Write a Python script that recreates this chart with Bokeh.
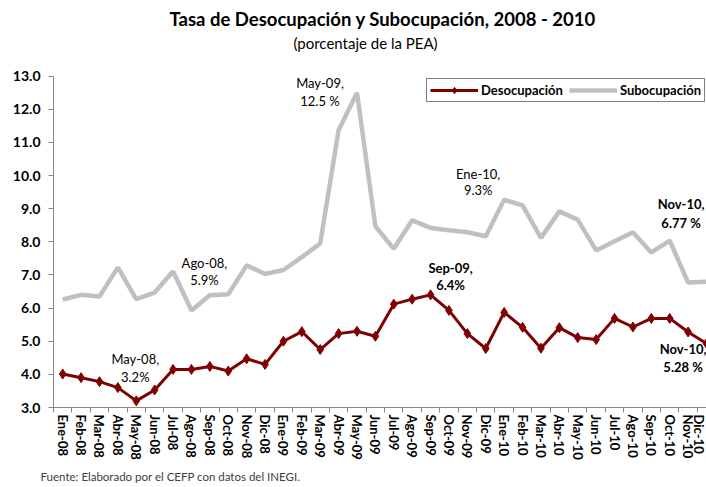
from bokeh.plotting import figure
from bokeh.models import (Range1d, FixedTicker, NumeralTickFormatter, Legend,
                          LegendItem, Label, Title)
from bokeh.embed import file_html
from bokeh.resources import INLINE

months = ["Ene-08", "Feb-08", "Mar-08", "Abr-08", "May-08", "Jun-08",
          "Jul-08", "Ago-08", "Sep-08", "Oct-08", "Nov-08", "Dic-08",
          "Ene-09", "Feb-09", "Mar-09", "Abr-09", "May-09", "Jun-09",
          "Jul-09", "Ago-09", "Sep-09", "Oct-09", "Nov-09", "Dic-09",
          "Ene-10", "Feb-10", "Mar-10", "Abr-10", "May-10", "Jun-10",
          "Jul-10", "Ago-10", "Sep-10", "Oct-10", "Nov-10", "Dic-10"]

desocupacion = [4.01, 3.90, 3.78, 3.60, 3.20, 3.53,
                4.15, 4.15, 4.24, 4.10, 4.47, 4.30,
                5.00, 5.29, 4.75, 5.23, 5.30, 5.15,
                6.12, 6.27, 6.40, 5.93, 5.23, 4.78,
                5.87, 5.42, 4.79, 5.41, 5.11, 5.05,
                5.69, 5.43, 5.69, 5.69, 5.28, 4.93]

subocupacion = [6.26, 6.40, 6.35, 7.23, 6.27, 6.47,
                7.11, 5.93, 6.39, 6.42, 7.29, 7.03,
                7.15, 7.54, 7.95, 11.37, 12.50, 8.47,
                7.79, 8.65, 8.42, 8.35, 8.29, 8.17,
                9.27, 9.10, 8.12, 8.92, 8.67, 7.74,
                8.02, 8.29, 7.68, 8.04, 6.77, 6.80]

y_ticks = [3, 4, 5, 6, 7, 8, 9, 10, 11, 12, 13]

title_text = "Tasa de Desocupación y Subocupación, 2008 - 2010"
subtitle_text = "(porcentaje de la PEA)"
footer_text = "Fuente: Elaborado por el CEFP con datos del INEGI."

# annotations: (month index, series, line 1, line 2, bold?)
ann_idx = [4, 7, 16, 24, 34, 20, 34]
ann_series = ["d", "s", "s", "s", "s", "d", "d"]
ann_line1 = ["May-08,", "Ago-08,", "May-09,", "Ene-10,", "Nov-10,", "Sep-09,", "Nov-10,"]
ann_line2 = ["3.2%", "5.9%", "12.5 %", "9.3%", "6.77 %", "6.4%", "5.28 %"]
ann_bold = [False, False, False, False, True, True, True]
# label placement (pixels, relative to the data point)
ann_dx = [-1, 13, -37, -26, -7, 20, -5]
ann_dy1 = [42, 47, 10, 26, 79, 27, -17]
ann_dy2 = [24, 30, -8, 10, 60, 10, -35]

FONT = "Lato"
RED = "#7F0000"
GRAY = "#C0C0C0"
AXIS = "#868686"

x = list(range(len(months)))

# the plot frame extends up to the top of the page so that the titles can be
# drawn inside it; the y axis itself only spans 3-13
Y_MIN, Y_MAX = 3, 13
y_top = Y_MAX + (Y_MAX - Y_MIN) * 75.7 / 331.3

p = figure(width=706, height=487, output_backend="svg", toolbar_location=None,
           x_range=Range1d(-0.5, 35.0), y_range=Range1d(Y_MIN, y_top),
           min_border_left=53, min_border_right=0, min_border_top=0,
           min_border_bottom=80, title=None)

p.xgrid.visible = False
p.ygrid.visible = False
p.outline_line_color = None
p.background_fill_color = "white"
p.border_fill_color = "white"

# x axis
p.xaxis.ticker = FixedTicker(ticks=x, minor_ticks=[i - 0.5 for i in range(len(months) + 1)])
p.xaxis.major_label_overrides = {i: m for i, m in enumerate(months)}
p.xaxis.major_label_orientation = "vertical"
p.xaxis.major_tick_line_color = None
p.xaxis.major_tick_out = 5
p.xaxis.major_tick_in = 0
p.xaxis.minor_tick_out = 5
p.xaxis.minor_tick_in = 0
p.xaxis.minor_tick_line_color = AXIS
p.xaxis.axis_line_color = AXIS
p.xaxis.major_label_standoff = 2
p.xaxis.major_label_text_font = FONT
p.xaxis.major_label_text_font_size = "13px"
p.xaxis.major_label_text_font_style = "bold"
p.xaxis.major_label_text_color = "black"

# y axis
p.yaxis.ticker = FixedTicker(ticks=y_ticks)
p.yaxis.bounds = (Y_MIN, Y_MAX)
p.yaxis.formatter = NumeralTickFormatter(format="0.0")
p.yaxis.major_tick_out = 5
p.yaxis.major_tick_in = 0
p.yaxis.minor_tick_line_color = None
p.yaxis.major_tick_line_color = AXIS
p.yaxis.axis_line_color = AXIS
p.yaxis.major_label_standoff = 8
p.yaxis.major_label_text_font = FONT
p.yaxis.major_label_text_font_size = "14px"
p.yaxis.major_label_text_font_style = "bold"
p.yaxis.major_label_text_color = "black"

r_sub = p.line(x, subocupacion, line_color=GRAY, line_width=4.5)
r_des = p.line(x, desocupacion, line_color=RED, line_width=3)
r_desm = p.scatter(x, desocupacion, marker="diamond", size=10,
                   fill_color=RED, line_color=RED)

legend = Legend(items=[LegendItem(label="Desocupación", renderers=[r_des, r_desm]),
                       LegendItem(label="Subocupación", renderers=[r_sub])],
                orientation="horizontal", location=(373, 305),
                glyph_width=48, glyph_height=16, label_standoff=3, spacing=6,
                padding=3, margin=0, border_line_color="black",
                border_line_width=1, background_fill_color="white",
                background_fill_alpha=1, label_text_font=FONT,
                label_text_font_size="13px", label_text_font_style="bold",
                label_text_color="black")
p.add_layout(legend)

series = {"d": desocupacion, "s": subocupacion}
for i, s, l1, l2, b, dx, dy1, dy2 in zip(ann_idx, ann_series, ann_line1, ann_line2,
                                         ann_bold, ann_dx, ann_dy1, ann_dy2):
    yv = series[s][i]
    for txt, dy in ((l1, dy1), (l2, dy2)):
        p.add_layout(Label(x=i, y=yv, text=txt, x_offset=dx, y_offset=dy,
                           text_align="center", text_baseline="middle",
                           text_font=FONT, text_font_size="13px",
                           text_font_style="bold" if b else "normal",
                           text_color="black"))

# titles (screen units relative to the plot frame's bottom-left)
p.add_layout(Label(x=116, y=389, x_units="screen", y_units="screen",
                   text=title_text, text_align="left", text_baseline="middle",
                   text_font=FONT, text_font_size="18.5px", text_font_style="bold",
                   text_color="black"))
p.add_layout(Label(x=312, y=365, x_units="screen", y_units="screen",
                   text=subtitle_text, text_align="center", text_baseline="middle",
                   text_font=FONT, text_font_size="15px", text_font_style="normal",
                   text_color="black"))
p.add_layout(Title(text=footer_text, align="left", offset=-13,
                   text_font=FONT, text_font_size="11.5px",
                   text_font_style="normal", text_color="#404040"), "below")

open("out.html", "w").write(file_html(p, INLINE))
